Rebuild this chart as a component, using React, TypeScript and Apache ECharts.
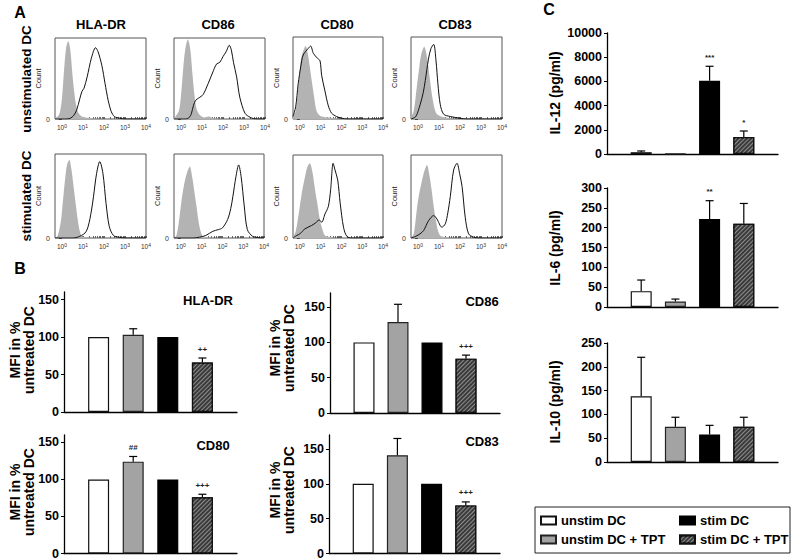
import { useEffect, useRef } from 'react';
import * as echarts from 'echarts';

const FONT = '"Liberation Sans", Arial, Helvetica, sans-serif';

// ---------- shared ----------
const groups = ['unstim DC', 'unstim DC + TPT', 'stim DC', 'stim DC + TPT'];
const markers = ['HLA-DR', 'CD86', 'CD80', 'CD83'];
const rowNames = ['unstimulated DC', 'stimulated DC'];
const decades = [0, 1, 2, 3, 4];

// ---------- Panel A: histograms [log10 intensity, count in % of frame] ----------
const isoUnstimHLA = [[-0.33,1],[-0.2,3],[-0.1,8],[0,25],[0.1,60],[0.2,88],[0.3,96],[0.4,85],[0.5,55],[0.6,30],[0.7,14],[0.8,7],[0.95,3],[1.2,1.5],[1.6,0.5],[2,0]];
const stainUnstimHLA = [[-0.33,0],[0.2,0],[0.4,1],[0.55,4],[0.7,11],[0.85,25],[0.95,34],[1.05,38],[1.2,52],[1.4,75],[1.6,88],[1.72,83],[1.9,66],[2.05,44],[2.2,23],[2.35,9],[2.5,3],[2.75,1],[3,0],[4,0]];
const isoUnstimCD86 = [[-0.33,1],[-0.1,10],[0,28],[0.1,60],[0.2,85],[0.33,98],[0.45,85],[0.55,55],[0.65,28],[0.75,12],[0.9,5],[1.1,2],[1.3,3],[1.45,2],[1.7,0.5],[2,0]];
const stainUnstimCD86 = [[-0.33,0],[0.2,0],[0.4,2],[0.5,7],[0.6,17],[0.7,23],[0.85,26],[1.05,30],[1.3,44],[1.55,60],[1.7,68],[1.85,70],[2.0,77],[2.15,83],[2.3,91],[2.4,85],[2.5,70],[2.65,52],[2.8,27],[3.05,7],[3.3,2],[3.6,0],[4,0]];
const isoUnstimCD80 = [[-0.33,2],[-0.2,10],[-0.05,45],[0.05,72],[0.15,82],[0.28,89],[0.38,80],[0.48,63],[0.58,45],[0.68,28],[0.8,10],[0.97,4],[1.3,2],[1.8,0.5],[2.1,0]];
const stainUnstimCD80 = [[-0.33,3],[-0.2,15],[-0.08,43],[0.05,65],[0.16,78],[0.4,86],[0.52,89],[0.65,80],[0.85,74],[0.97,71],[1.05,53],[1.2,35],[1.37,16],[1.53,7],[1.77,3],[2.0,1],[2.3,0],[4,0]];
const isoUnstimCD83 = [[-0.33,2],[-0.2,10],[-0.05,40],[0.05,60],[0.15,78],[0.3,88],[0.4,80],[0.5,63],[0.6,42],[0.7,24],[0.8,12],[0.9,6],[1.1,3],[1.5,1],[2,0]];
const stainUnstimCD83 = [[-0.33,0],[-0.1,3],[0.11,18],[0.25,32],[0.35,47],[0.5,73],[0.62,86],[0.75,91],[0.86,71],[0.95,43],[1.06,18],[1.22,6],[1.54,3],[2.0,1],[2.3,0],[4,0]];

const isoStimHLA = [[-0.33,0],[-0.2,3],[-0.05,20],[0.05,45],[0.15,70],[0.25,88],[0.35,93],[0.45,82],[0.55,62],[0.65,42],[0.75,22],[0.85,8],[0.95,2],[1.2,0.5],[1.5,0]];
const stainStimHLA = [[-0.33,0],[0.5,0],[0.75,1],[1.1,6],[1.25,14],[1.4,32],[1.5,49],[1.65,77],[1.8,91],[1.95,77],[2.1,41],[2.25,14],[2.45,3],[2.7,1],[3,0],[4,0]];
const isoStimCD86 = [[-0.33,0],[-0.2,4],[-0.05,28],[0.05,48],[0.2,69],[0.3,78],[0.43,85],[0.55,72],[0.65,55],[0.75,38],[0.85,20],[0.95,8],[1.06,2],[1.3,0.5],[1.6,0]];
const stainStimCD86 = [[-0.33,0],[0.6,0],[0.9,1],[1.2,3],[1.54,8],[1.8,10],[2.0,12],[2.25,22],[2.4,35],[2.5,49],[2.65,73],[2.78,87],[2.9,73],[3.05,38],[3.2,10],[3.45,2],[3.75,0.5],[4,0]];
const isoStimCD80 = [[-0.33,1],[-0.2,8],[-0.05,30],[0.1,55],[0.25,74],[0.35,85],[0.48,90],[0.6,80],[0.73,58],[0.85,40],[0.97,21],[1.1,9],[1.21,3],[1.5,1],[1.8,0]];
const stainStimCD80 = [[-0.33,0],[-0.15,3],[0,5],[0.24,11],[0.56,15],[0.8,19],[0.92,22],[1.05,19],[1.21,29],[1.37,38],[1.48,58],[1.6,90],[1.69,82],[1.82,70],[1.94,42],[2.1,13],[2.26,2],[2.5,0],[4,0]];
const isoStimCD83 = [[-0.33,0],[-0.2,5],[-0.05,35],[0.05,52],[0.2,70],[0.3,80],[0.43,88],[0.55,75],[0.65,58],[0.75,38],[0.85,22],[0.95,9],[1.06,3],[1.3,1],[1.6,0]];
const stainStimCD83 = [[-0.33,0],[-0.1,2],[0.1,5],[0.27,9],[0.51,21],[0.75,27],[0.9,23],[1.14,13],[1.3,17],[1.42,30],[1.54,50],[1.7,82],[1.86,90],[1.98,78],[2.1,62],[2.25,25],[2.41,5],[2.65,1],[2.9,0],[4,0]];

// ---------- Panel B: MFI in % of untreated DC ----------
const mfiTicks = [0, 50, 100, 150];
const mfiHLA = [100, 103, 100, 66];
const mfiHLAErr = [100, 111, 100, 72];
const mfiHLAMarks = ['', '', '', '++'];
const mfiCD86 = [100, 129, 100, 77];
const mfiCD86Err = [100, 154, 100, 82];
const mfiCD86Marks = ['', '', '', '+++'];
const mfiCD80 = [100, 124, 100, 76];
const mfiCD80Err = [100, 131, 100, 80];
const mfiCD80Marks = ['', '##', '', '+++'];
const mfiCD83 = [100, 141, 100, 69];
const mfiCD83Err = [100, 165, 100, 74];
const mfiCD83Marks = ['', '', '', '+++'];

// ---------- Panel C: cytokines (pg/ml) ----------
const il12Ticks = [0, 2000, 4000, 6000, 8000, 10000];
const il12 = [150, 30, 6050, 1400];
const il12Err = [250, 30, 7250, 1900];
const il12Marks = ['', '', '***', '*'];
const il6Ticks = [0, 50, 100, 150, 200, 250, 300];
const il6 = [40, 14, 222, 210];
const il6Err = [68, 20, 268, 261];
const il6Marks = ['', '', '**', ''];
const il10Ticks = [0, 50, 100, 150, 200, 250];
const il10 = [138, 74, 58, 74];
const il10Err = [220, 94, 77, 94];
const il10Marks = ['', '', '', ''];

const minorTicks: number[] = [];
for (let k = 0; k < 4; k++) for (let m = 1; m < 10; m++) minorTicks.push(k + Math.log10(m));
minorTicks.push(4);

const hatchDecal = {
  symbol: 'rect',
  symbolSize: 1,
  color: 'rgba(150,150,150,0.9)',
  dashArrayX: [1, 0],
  dashArrayY: [1, 2],
  rotation: -Math.PI / 4,
};

const groupStyles = [
  { color: '#ffffff', borderColor: '#111', borderWidth: 1.2 },
  { color: '#a3a3a3', borderColor: '#222', borderWidth: 1.2 },
  { color: '#000000', borderColor: '#000', borderWidth: 1.2 },
  { color: '#3a3a3a', borderColor: '#111', borderWidth: 1.2, decal: hatchDecal },
];

function buildOption() {
  const grid: any[] = [];
  const xAxis: any[] = [];
  const yAxis: any[] = [];
  const series: any[] = [];
  const graphic: any[] = [];

  const txt = (x: number, y: number, text: string, size: number, rot = 0, weight = 'bold') => ({
    type: 'text', x, y, rotation: rot, z: 100,
    style: {
      text, font: `${weight} ${size}px ${FONT}`, fill: '#000',
      textAlign: 'center', textVerticalAlign: 'middle', align: 'center', verticalAlign: 'middle',
    },
  });

  // ---- histograms ----
  const hist = [
    { iso: isoUnstimHLA, stain: stainUnstimHLA, box: [55, 38, 91, 81] },
    { iso: isoUnstimCD86, stain: stainUnstimCD86, box: [174, 38, 91, 81] },
    { iso: isoUnstimCD80, stain: stainUnstimCD80, box: [293, 37, 90, 82] },
    { iso: isoUnstimCD83, stain: stainUnstimCD83, box: [411, 37, 91, 82] },
    { iso: isoStimHLA, stain: stainStimHLA, box: [55, 154, 91, 84] },
    { iso: isoStimCD86, stain: stainStimCD86, box: [174, 154, 90, 84] },
    { iso: isoStimCD80, stain: stainStimCD80, box: [293, 155, 90, 83] },
    { iso: isoStimCD83, stain: stainStimCD83, box: [411, 155, 91, 83] },
  ];
  hist.forEach((h) => {
    const i = grid.length;
    const [l, t, w, hh] = h.box;
    grid.push({ left: l, top: t, width: w, height: hh, show: true, borderColor: '#555', borderWidth: 1, containLabel: false });
    xAxis.push({
      type: 'value', gridIndex: i, min: -0.33, max: 4,
      axisLine: { show: false },
      splitLine: { show: false },
      axisTick: { show: true, inside: true, length: 2, customValues: minorTicks, lineStyle: { color: '#444', width: 0.8 } },
      axisLabel: {
        customValues: decades, fontSize: 6.5, color: '#333', margin: 4, fontFamily: FONT,
        formatter: (v: number) => '10{s|' + Math.round(v) + '}',
        rich: { s: { fontSize: 5, color: '#333', verticalAlign: 'top', padding: [0, 0, 3, 0], fontFamily: FONT } },
      },
    });
    yAxis.push({
      type: 'value', gridIndex: i, min: 0, max: 100,
      axisLine: { show: false }, splitLine: { show: false },
      axisTick: { show: true, customValues: [0], length: 3, lineStyle: { color: '#444' } },
      axisLabel: { customValues: [0], fontSize: 7, color: '#333', margin: 5, fontFamily: FONT },
      name: 'Count', nameLocation: 'middle', nameRotate: 90, nameGap: 11,
      nameTextStyle: { fontSize: 7.5, color: '#222', fontFamily: FONT },
    });
    series.push({
      type: 'line', xAxisIndex: i, yAxisIndex: i, data: h.iso, symbol: 'none', smooth: 0.3,
      lineStyle: { width: 0 }, areaStyle: { color: '#b3b3b3', opacity: 1 }, z: 2,
    });
    series.push({
      type: 'line', xAxisIndex: i, yAxisIndex: i, data: h.stain, symbol: 'none', smooth: 0.3,
      lineStyle: { width: 1, color: '#111' }, z: 3,
    });
  });

  // ---- bar charts ----
  const bars = [
    { v: mfiHLA, e: mfiHLAErr, m: mfiHLAMarks, box: [64, 292, 173, 120], max: 160, ticks: mfiTicks },
    { v: mfiCD86, e: mfiCD86Err, m: mfiCD86Marks, box: [330, 293, 170, 120], max: 170, ticks: mfiTicks },
    { v: mfiCD80, e: mfiCD80Err, m: mfiCD80Marks, box: [64, 435, 173, 120], max: 160, ticks: mfiTicks },
    { v: mfiCD83, e: mfiCD83Err, m: mfiCD83Marks, box: [329, 435, 171, 120], max: 170, ticks: mfiTicks },
    { v: il12, e: il12Err, m: il12Marks, box: [607, 33, 171, 121], max: 10000, ticks: il12Ticks },
    { v: il6, e: il6Err, m: il6Marks, box: [607, 188, 171, 119], max: 300, ticks: il6Ticks },
    { v: il10, e: il10Err, m: il10Marks, box: [607, 343, 171, 119], max: 250, ticks: il10Ticks },
  ];
  bars.forEach((b) => {
    const i = grid.length;
    const [l, t, w, hh] = b.box;
    grid.push({ left: l, top: t, width: w, height: hh, containLabel: false });
    xAxis.push({
      type: 'value', gridIndex: i, min: 0, max: 5,
      axisLine: { show: true, lineStyle: { color: '#000', width: 1.3 } },
      axisTick: { show: false }, axisLabel: { show: false }, splitLine: { show: false },
    });
    yAxis.push({
      type: 'value', gridIndex: i, min: 0, max: b.max,
      axisLine: { show: true, lineStyle: { color: '#000', width: 1.3 } },
      axisTick: { show: true, customValues: b.ticks, length: 3, lineStyle: { color: '#000', width: 1 } },
      axisLabel: {
        customValues: b.ticks, fontSize: 12.5, fontWeight: 'bold', color: '#000', margin: 5, fontFamily: FONT,
        formatter: (v: number) => String(v),
      },
      splitLine: { show: false },
    });
    b.v.forEach((val, g) => {
      series.push({
        type: 'bar', name: groups[g], xAxisIndex: i, yAxisIndex: i,
        data: [[g + 1, val]], barWidth: 21, barGap: '-100%',
        itemStyle: groupStyles[g],
      });
    });
    const marks = b.m;
    series.push({
      type: 'custom', xAxisIndex: i, yAxisIndex: i, z: 5,
      data: b.v.map((val, g) => [g + 1, val, b.e[g]]),
      renderItem: (params: any, api: any) => {
        const x = api.value(0);
        const v = api.value(1);
        const e = api.value(2);
        const p0 = api.coord([x, v]);
        const p1 = api.coord([x, e]);
        const children: any[] = [];
        if (e > v) {
          children.push({ type: 'line', shape: { x1: p0[0], y1: p0[1], x2: p1[0], y2: p1[1] }, style: { stroke: '#000', lineWidth: 1.2 } });
          children.push({ type: 'line', shape: { x1: p1[0] - 4, y1: p1[1], x2: p1[0] + 4, y2: p1[1] }, style: { stroke: '#000', lineWidth: 1.2 } });
        }
        const mk = marks[params.dataIndex];
        if (mk) {
          children.push({
            type: 'text', x: p1[0], y: p1[1] - 9,
            style: { text: mk, font: `bold 8px ${FONT}`, fill: '#222', align: 'center', verticalAlign: 'middle', textAlign: 'center', textVerticalAlign: 'middle' },
          });
        }
        return { type: 'group', children };
      },
    });
  });

  // ---- texts ----
  graphic.push(txt(20, 12, 'A', 16));
  graphic.push(txt(20, 268, 'B', 16));
  graphic.push(txt(549, 9, 'C', 16));
  [101, 218, 337, 455].forEach((x, k) => graphic.push(txt(x, 24, markers[k], 13)));
  graphic.push(txt(26, 79, rowNames[0], 13.5, Math.PI / 2));
  graphic.push(txt(26, 196, rowNames[1], 13.5, Math.PI / 2));

  graphic.push(txt(208, 300, markers[0], 13));
  graphic.push(txt(482, 301, markers[1], 13));
  graphic.push(txt(213, 445, markers[2], 13));
  graphic.push(txt(482, 441, markers[3], 13));

  const mfiLabel = (x1: number, x2: number, y: number) => {
    graphic.push(txt(x1, y, 'MFI in %', 14, Math.PI / 2));
    graphic.push(txt(x2, y, 'untreated DC', 14, Math.PI / 2));
  };
  mfiLabel(15, 29, 350);
  mfiLabel(275, 289, 348);
  mfiLabel(15, 29, 492);
  mfiLabel(275, 289, 490);

  graphic.push(txt(555, 93, 'IL-12 (pg/ml)', 14, Math.PI / 2));
  graphic.push(txt(555, 248, 'IL-6 (pg/ml)', 14, Math.PI / 2));
  graphic.push(txt(555, 402, 'IL-10 (pg/ml)', 14, Math.PI / 2));

  graphic.push({
    type: 'rect', shape: { x: 535, y: 507, width: 255, height: 46 },
    style: { fill: 'none', stroke: '#222', lineWidth: 1 }, z: 50,
  });

  const legendCommon = {
    orient: 'vertical', top: 514, itemWidth: 15, itemHeight: 8, itemGap: 6, icon: 'rect',
    selectedMode: false, padding: 0,
    textStyle: { fontWeight: 'bold', fontSize: 13, color: '#000', fontFamily: FONT },
  };

  return {
    animation: false,
    backgroundColor: '#fff',
    textStyle: { fontFamily: FONT },
    grid, xAxis, yAxis, series, graphic,
    legend: [
      { ...legendCommon, left: 540, data: [groups[0], groups[1]] },
      { ...legendCommon, left: 679, data: [groups[2], groups[3]] },
    ],
  };
}

export default function App() {
  const ref = useRef<HTMLDivElement>(null);
  useEffect(() => {
    const chart = echarts.init(ref.current!, null, { renderer: 'svg' });
    chart.setOption(buildOption() as any);
    return () => chart.dispose();
  }, []);
  return <div ref={ref} style={{ position: 'fixed', left: 0, top: 0, width: 798, height: 560 }} />;
}
